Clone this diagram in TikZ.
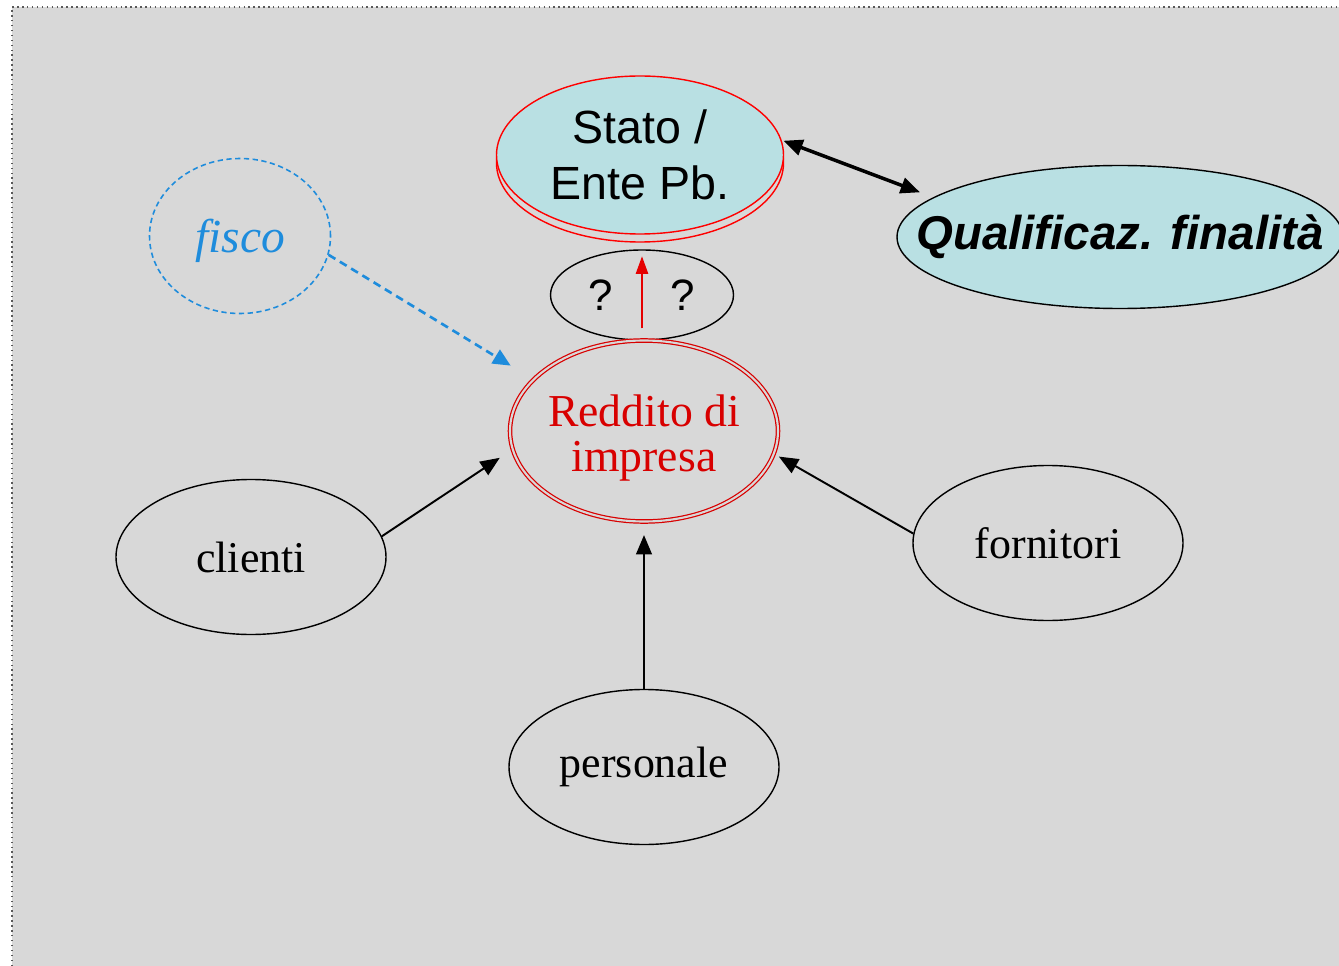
\documentclass[tikz,border=0pt]{standalone}
\usepackage{fontspec}
\setmainfont{Liberation Serif}
\setsansfont{Liberation Sans}
\usetikzlibrary{shapes.geometric,arrows.meta}
\definecolor{sfondo}{HTML}{D8D8D8}
\definecolor{celeste}{HTML}{B9E0E3}
\definecolor{rosso}{HTML}{D80000}
\definecolor{blu}{HTML}{1E8CDC}
\tikzset{
  oval/.style 2 args={ellipse, inner sep=0pt, align=center,
    minimum width=#1*0.02cm, minimum height=#2*0.02cm},
  soggetto/.style={oval={270}{155}, draw=black, line width=0.8pt,
    font={\fontsize{25pt}{27pt}\selectfont}},
  freccia/.style={-{Triangle[length=11pt,width=9pt]}, line width=1.1pt}}

\begin{document}
\begin{tikzpicture}[x=0.02cm,y=-0.02cm]
\useasboundingbox (0,0) rectangle (1339,966);
\fill [sfondo] (12,7) rectangle (1339,966);
\draw [gray!70!black, dotted, line width=0.8pt] (12,966) -- (12,7) -- (1339,7);
% ente pubblico e finalita
\node [oval={287}{158}, draw=red, line width=0.8pt] (ombra) at (640,163) {};
\node [oval={287}{158}, draw=red, fill=celeste, line width=0.8pt,
  font={\sffamily\fontsize{26.5pt}{32pt}\selectfont}] (stato) at (640,155) {Stato /\\Ente Pb.};
\node [oval={446}{143}, draw, fill=celeste, line width=0.8pt,
  label={[font={\sffamily\bfseries\itshape\fontsize{27pt}{30pt}\selectfont}]center:Qualificaz. finalità}]
  (qual) at (1120,237) {};
\node [oval={183}{90}, draw, line width=0.8pt,
  font={\sffamily\fontsize{25pt}{27pt}\selectfont}] (dubbio) at (642,295) {?\hspace{33pt}?};
% fisco e reddito
\node [oval={181}{155}, draw=blu, dash pattern=on 3pt off 2pt, line width=0.9pt,
  label={[text=blu, yshift=-3pt, font={\itshape\fontsize{27pt}{30pt}\selectfont}]center:fisco}]
  (fisco) at (240,236) {};
\node [oval={268}{181}, draw=rosso, double=sfondo, double distance=1.2pt, line width=0.7pt,
  label={[text=rosso, yshift=-4pt, align=center, font={\fontsize{26pt}{26pt}\selectfont}]center:Reddito di\\impresa}]
  (reddito) at (644,431) {};
% portatori di interessi
\node [soggetto] (clienti) at (251,557) {clienti};
\node [soggetto] (fornitori) at (1048,543) {fornitori};
\node [soggetto] (personale) at (644,767) {personale};
% frecce
\draw [freccia, shorten >=8.5pt] (clienti.9) -- (reddito.188);
\draw [freccia, shorten >=3pt] (fornitori.176) -- (reddito.350);
\draw [freccia, shorten >=7.4pt] (personale.north) -- (reddito.south);
\draw [blu, -{Triangle[length=10pt,width=9pt]}, line width=1.5pt, dash pattern=on 4.5pt off 3pt,
  shorten >=15pt] (fisco.348) -- (reddito.155);
\draw [{Triangle[length=11pt,width=9pt]}-{Triangle[length=11pt,width=9pt]}, line width=2pt,
  shorten <=1pt, shorten >=8pt] (stato.6) -- (qual.168);
\draw [red!90!black, -{Triangle[length=10pt,width=7pt]}, line width=0.9pt,
  shorten <=7pt, shorten >=4pt] (dubbio.south) -- (dubbio.north);
\end{tikzpicture}
\end{document}
